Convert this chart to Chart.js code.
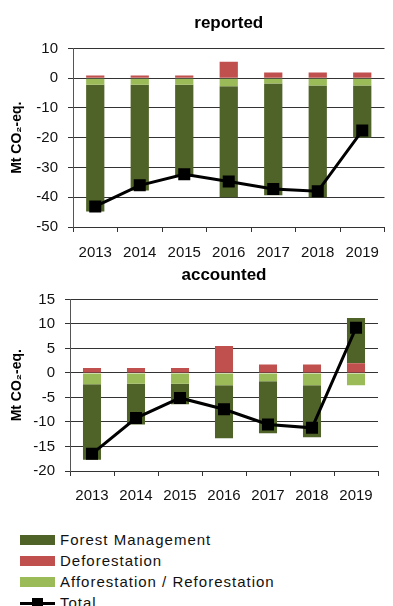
<!DOCTYPE html>
<html>
<head>
<meta charset="utf-8">
<script src="https://cdn.jsdelivr.net/npm/chart.js@4.4.1/dist/chart.umd.min.js"></script>
<style>
  body { margin: 0; background: #fff; width: 393px; height: 606px; overflow: hidden; position: relative; }
  #reportedChart { position: absolute; left: 0; top: 0; }
  #accountedChart { position: absolute; left: 0; top: 262px; }
  #legend { position: absolute; left: 20px; top: 529px; font-family: "Liberation Sans", Arial, sans-serif; }
  .item { height: 21px; display: flex; align-items: center; font-size: 15px; letter-spacing: 1px; color: #111; }
  .sw { width: 35px; height: 10px; margin-right: 5px; position: relative; }
  .sw.line::before { content: ''; position: absolute; left: 0; right: 0; top: 4px; height: 3px; background: #000; }
  .sw.line::after { content: ''; position: absolute; left: 12px; top: 0; width: 11px; height: 11px; background: #000; }
</style>
</head>
<body>
<canvas id="reportedChart" width="393" height="262"></canvas>
<canvas id="accountedChart" width="393" height="250"></canvas>
<div id="legend"></div>
<script>
const YEARS = ['2013', '2014', '2015', '2016', '2017', '2018', '2019'];

// reported (Mt CO2-eq.)
const reportedFM    = [-42.6, -35.5, -31.0, -37.3, -37.5, -37.5, -17.4];
const reportedDef   = [0.9, 0.9, 0.9, 5.5, 1.9, 1.9, 1.9];
const reportedAR    = [-2.2, -2.2, -2.2, -2.7, -1.8, -2.5, -2.5];
const reportedTotal = [-43.1, -36.0, -32.3, -34.7, -37.2, -38.0, -17.6];

// accounted (Mt CO2-eq.)
const accountedFM    = [-15.4, -8.3, -4.2, -10.8, -10.6, -10.6, 9.2];
const accountedDef   = [1.0, 1.0, 1.0, 5.5, 1.7, 1.7, 2.0];
const accountedAR    = [-2.3, -2.2, -2.2, -2.5, -1.7, -2.5, -2.5];
const accountedTotal = [-16.5, -9.2, -5.1, -7.4, -10.5, -11.2, 9.2];

const COLORS = {
    fm: '#4F6228',
    def: '#C0504D',
    ar: '#9BBB59',
    total: '#000000',
};

const FONT = '"Liberation Sans", Arial, sans-serif';
Chart.defaults.font.family = FONT;
Chart.defaults.color = '#111';

function makeChart(id, cfg) {
    const bar = (label, data, color) => ({
        type: 'bar',
        label: label,
        data: data,
        backgroundColor: color,
        borderWidth: 0,
        barPercentage: 0.41,
        categoryPercentage: 1,
        order: 1,
    });

    return new Chart(document.getElementById(id), {
        data: {
            labels: YEARS,
            datasets: [
                {
                    type: 'line',
                    label: 'Total',
                    data: cfg.total,
                    borderColor: COLORS.total,
                    backgroundColor: COLORS.total,
                    borderWidth: 3,
                    tension: 0,
                    pointStyle: 'rect',
                    pointRadius: 8.5,
                    pointBackgroundColor: COLORS.total,
                    pointBorderWidth: 0,
                    order: 0,
                },
                // negatives stack A/R then FM, positives stack Def then FM
                bar('Afforestation / Reforestation', cfg.ar, COLORS.ar),
                bar('Deforestation', cfg.def, COLORS.def),
                bar('Forest Management', cfg.fm, COLORS.fm),
            ]
        },
        options: {
            responsive: false,
            animation: false,
            layout: { padding: { left: 0, right: cfg.rightPad, top: 0, bottom: 0 } },
            plugins: {
                legend: { display: false },
                tooltip: { enabled: false },
                title: {
                    display: true,
                    text: cfg.title,
                    fullSize: false,
                    color: '#000',
                    font: { family: FONT, size: 17, weight: 'bold' },
                    padding: cfg.titlePad,
                },
            },
            scales: {
                x: {
                    stacked: true,
                    afterFit: s => { s.height = cfg.xHeight; },
                    grid: {
                        offset: true,
                        drawOnChartArea: false,
                        tickLength: 5,
                        color: '#333',
                    },
                    border: { display: true, color: '#333', width: 1 },
                    ticks: { font: { size: 15 }, padding: cfg.xPad, color: '#111' },
                },
                y: {
                    stacked: true,
                    min: cfg.min,
                    max: cfg.max,
                    afterFit: s => { s.width = cfg.yWidth; },
                    grid: { color: '#333', lineWidth: 1, tickLength: 5 },
                    border: { display: true, color: '#555', width: 1 },
                    ticks: { stepSize: cfg.step, font: { size: 15 }, padding: 10, color: '#111' },
                    title: {
                        display: true,
                        text: 'Mt CO\u2082-eq.',
                        color: '#000',
                        font: { family: FONT, size: 14, weight: 'bold' },
                        padding: { top: 9, bottom: 0 },
                    },
                },
            },
        },
    });
}

makeChart('reportedChart', {
    title: 'reported',
    fm: reportedFM, def: reportedDef, ar: reportedAR, total: reportedTotal,
    min: -50, max: 10, step: 10,
    yWidth: 73, rightPad: 1, xHeight: 35, xPad: 12,
    titlePad: { top: 13, bottom: 15 },
});

makeChart('accountedChart', {
    title: 'accounted',
    fm: accountedFM, def: accountedDef, ar: accountedAR, total: accountedTotal,
    min: -20, max: 15, step: 5,
    yWidth: 70, rightPad: 15, xHeight: 41, xPad: 11,
    titlePad: { top: 3, bottom: 14 },
});

// legend below both charts
const LEGEND_ITEMS = [
    { label: 'Forest Management', color: COLORS.fm },
    { label: 'Deforestation', color: COLORS.def },
    { label: 'Afforestation / Reforestation', color: COLORS.ar },
    { label: 'Total', line: true },
];
const legendEl = document.getElementById('legend');
LEGEND_ITEMS.forEach(it => {
    const row = document.createElement('div');
    row.className = 'item';
    const sw = document.createElement('span');
    sw.className = it.line ? 'sw line' : 'sw';
    if (!it.line) sw.style.background = it.color;
    row.appendChild(sw);
    row.appendChild(document.createTextNode(it.label));
    legendEl.appendChild(row);
});
</script>
</body>
</html>
